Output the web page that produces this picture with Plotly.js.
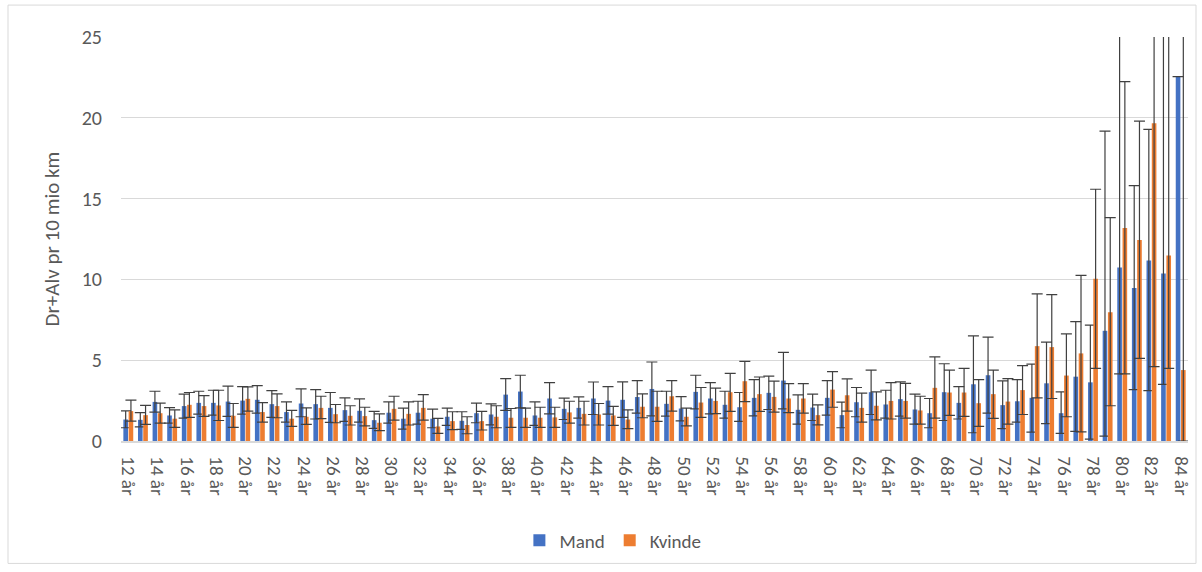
<!DOCTYPE html>
<html>
<head>
<meta charset="utf-8">
<script src="https://cdn.plot.ly/plotly-3.0.1.min.js"></script>
<style>html,body{margin:0;padding:0;background:#fff;}#chart{width:1202px;height:572px;}</style>
</head>
<body>
<div id="chart"></div>
<script>
var categories = ["12 år","13 år","14 år","15 år","16 år","17 år","18 år","19 år","20 år","21 år","22 år","23 år","24 år","25 år","26 år","27 år","28 år","29 år","30 år","31 år","32 år","33 år","34 år","35 år","36 år","37 år","38 år","39 år","40 år","41 år","42 år","43 år","44 år","45 år","46 år","47 år","48 år","49 år","50 år","51 år","52 år","53 år","54 år","55 år","56 år","57 år","58 år","59 år","60 år","61 år","62 år","63 år","64 år","65 år","66 år","67 år","68 år","69 år","70 år","71 år","72 år","73 år","74 år","75 år","76 år","77 år","78 år","79 år","80 år","81 år","82 år","83 år","84 år"];

var tickLabels = ["12 år","14 år","16 år","18 år","20 år","22 år","24 år","26 år","28 år","30 år","32 år","34 år","36 år","38 år","40 år","42 år","44 år","46 år","48 år","50 år","52 år","54 år","56 år","58 år","60 år","62 år","64 år","66 år","68 år","70 år","72 år","74 år","76 år","78 år","80 år","82 år","84 år"];

var mandValues = [1.33,1.31,2.42,1.58,2.16,2.36,2.36,2.44,2.50,2.55,2.28,1.79,2.32,2.28,2.05,1.91,1.87,1.29,1.75,1.38,1.75,1.38,1.50,1.25,1.72,1.64,2.87,3.06,1.58,2.63,1.99,2.05,2.63,2.50,2.55,2.72,3.22,2.30,2.01,3.04,2.63,2.24,2.09,2.67,2.98,3.74,1.93,2.07,2.67,1.60,2.40,3.02,2.26,2.59,1.95,1.72,3.02,2.36,3.51,4.07,2.22,2.46,2.67,3.57,1.72,3.98,3.63,6.82,10.74,9.47,11.17,10.37,22.55];
var mandUpper = [1.87,1.75,3.08,2.07,2.90,3.08,3.14,3.39,3.37,3.43,3.12,2.42,3.22,3.18,3.00,2.67,2.61,1.83,2.42,2.03,2.46,1.97,2.03,1.81,2.34,2.30,3.86,4.07,2.42,3.61,2.65,2.73,3.65,3.37,3.66,3.74,4.89,3.08,2.75,4.07,3.61,3.08,3.00,3.80,4.02,5.48,2.85,2.90,3.74,2.40,3.31,4.39,3.14,3.66,2.90,2.63,4.78,3.37,6.51,6.43,3.72,3.80,4.76,6.12,3.04,7.39,7.17,19.18,30,15.80,19.28,30,22.55];
var mandLower = [0.82,0.88,1.79,1.10,1.42,1.66,1.60,1.52,1.66,1.73,1.46,1.17,1.50,1.36,1.15,1.21,1.17,0.78,1.10,0.74,1.05,0.82,0.97,0.72,1.13,1.00,1.89,2.05,0.97,1.68,1.33,1.42,1.64,1.66,1.46,1.72,1.56,1.54,1.25,1.99,1.68,1.42,1.21,1.56,1.95,1.99,1.05,1.27,1.60,0.82,1.50,1.64,1.42,1.54,1.05,0.82,1.27,1.36,0.51,1.72,0.76,1.17,0.55,1.07,0.47,0.60,0.12,0.30,4.15,3.18,3.12,3.50,22.55];

var kvindeValues = [1.85,1.60,1.72,1.38,2.24,2.16,2.20,1.56,2.61,1.79,2.16,1.38,1.50,2.05,1.66,1.56,1.54,1.13,1.99,1.68,2.05,0.90,1.23,0.99,1.23,1.50,1.44,1.44,1.44,1.46,1.77,1.68,1.64,1.58,1.33,2.12,2.12,2.77,1.50,2.38,2.48,3.02,3.70,2.90,2.73,2.63,2.63,1.60,3.18,2.83,2.05,2.18,2.48,2.48,1.89,3.29,3.00,3.00,2.34,2.90,2.44,3.15,5.87,5.81,4.05,5.42,10.04,7.97,13.18,12.44,19.67,11.48,4.39];
var kvindeUpper = [2.53,2.20,2.34,1.93,3.00,2.81,3.14,2.32,3.35,2.38,2.92,1.89,2.05,2.77,2.26,2.18,2.09,1.68,2.77,2.42,2.87,1.40,1.81,1.50,1.83,2.18,2.01,2.03,2.09,2.09,2.46,2.46,2.32,2.14,1.93,2.92,3.08,3.74,2.03,3.31,3.27,4.19,4.93,3.96,3.70,3.55,3.55,2.24,4.29,3.84,2.96,3.04,3.61,3.57,2.77,5.20,4.39,4.50,3.80,4.39,3.86,4.66,9.10,9.06,6.63,10.25,15.58,13.82,22.24,19.79,30,30,30];
var kvindeLower = [1.23,1.03,1.10,0.84,1.46,1.52,1.27,0.84,1.85,1.17,1.44,0.90,1.03,1.38,1.13,0.99,0.94,0.64,1.29,0.99,1.29,0.47,0.70,0.45,0.68,0.82,0.84,0.84,0.84,0.84,1.10,0.99,0.99,0.97,0.76,1.44,1.21,1.85,0.94,1.46,1.70,1.83,2.44,1.83,1.79,1.75,1.72,1.00,2.09,1.85,1.17,1.31,1.36,1.42,1.05,1.42,1.58,1.52,0.90,1.40,1.05,1.64,2.67,2.63,1.50,0.57,4.50,2.18,4.15,5.11,4.60,4.50,0];

function plusOf(vals, up){ return vals.map(function(v,i){ return Math.max(0, up[i]-v); }); }
function minusOf(vals, lo){ return vals.map(function(v,i){ return Math.max(0, v-lo[i]); }); }

var fontFam = "Carlito, Lato, 'Open Sans', sans-serif";
var errStyle = {type:'data', symmetric:false, color:'#404040', thickness:1.2, width:5.5};

var traces = [
  {type:'bar', name:'Mand', x:categories, y:mandValues, marker:{color:'#4472C4'},
   error_y:Object.assign({array:plusOf(mandValues,mandUpper), arrayminus:minusOf(mandValues,mandLower)}, errStyle)},
  {type:'bar', name:'Kvinde', x:categories, y:kvindeValues, marker:{color:'#ED7D31'},
   error_y:Object.assign({array:plusOf(kvindeValues,kvindeUpper), arrayminus:minusOf(kvindeValues,kvindeLower)}, errStyle)}
];

var layout = {
  width:1202, height:572,
  margin:{l:121, r:14, t:37, b:129},
  paper_bgcolor:'#fff', plot_bgcolor:'#fff',
  font:{family:fontFam, size:20, color:'#595959'},
  barmode:'group', bargap:0.28, bargroupgap:0.12,
  showlegend:true,
  legend:{orientation:'h', x:0.461, xanchor:'center', y:-0.246, yanchor:'middle', font:{size:19, color:'#595959'}, itemwidth:30, traceorder:'normal'},
  xaxis:{type:'category', tickmode:'array', tickvals:tickLabels, ticktext:tickLabels, tickangle:90,
         showgrid:false, showline:true, linecolor:'#D9D9D9', linewidth:1.5, ticks:'', ticklabelstandoff:10,
         tickfont:{size:19, color:'#595959'}},
  yaxis:{range:[0,25], dtick:5, tick0:0, showgrid:true, gridcolor:'#D9D9D9', gridwidth:1.2, zeroline:false, showline:false,
         ticks:'', ticklen:0, ticklabelstandoff:18, tickfont:{size:20, color:'#595959'},
         title:{text:'Dr+Alv pr 10 mio km', font:{size:21, color:'#595959'}, standoff:16}},
  shapes:[{type:'rect', xref:'paper', yref:'paper', x0:-0.1059, x1:1.0075, y0:-0.303, y1:1.079,
           line:{color:'#D9D9D9', width:1}, fillcolor:'rgba(0,0,0,0)', layer:'below'}]
};

Plotly.newPlot('chart', traces, layout, {displayModeBar:false, staticPlot:true});
</script>
</body>
</html>
